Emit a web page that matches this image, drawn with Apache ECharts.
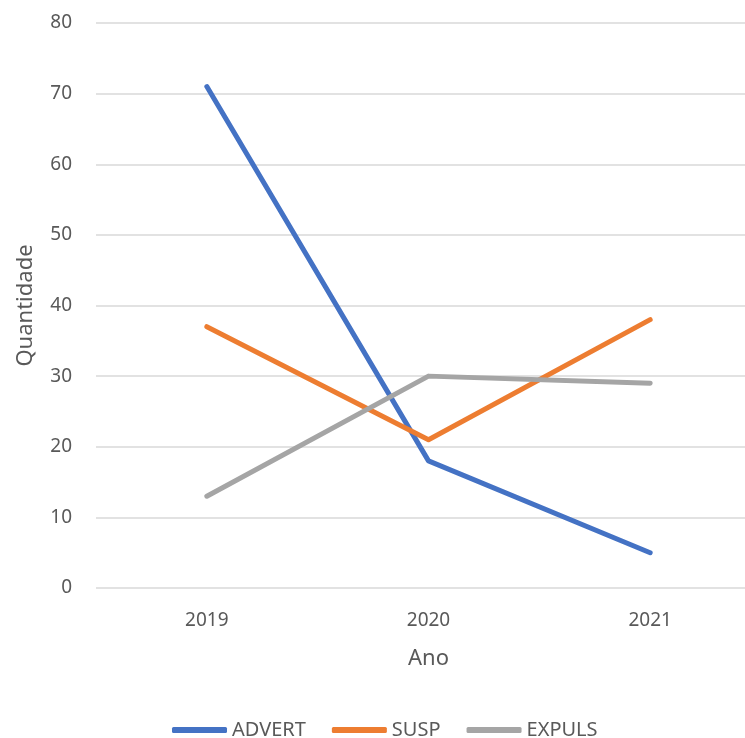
<!DOCTYPE html>
<html>
<head>
<meta charset="utf-8">
<script src="https://cdn.jsdelivr.net/npm/echarts@6/dist/echarts.min.js"></script>
<style>
  html, body { margin: 0; padding: 0; background: #fff; }
  #chart { width: 745px; height: 738px; }
</style>
</head>
<body>
<div id="chart"></div>
<script>
// Years on the category axis
const anos = ['2019', '2020', '2021'];
// Counts per year for each measure
const advert = [71, 18, 5];
const susp = [37, 21, 38];
const expuls = [13, 30, 29];

const FONT = '"Noto Sans", "Open Sans", sans-serif';
const TXT = '#595959';

const chart = echarts.init(document.getElementById('chart'));

function serie(name, data, color) {
  return {
    name: name,
    type: 'line',
    data: data,
    symbol: 'none',
    lineStyle: { color: color, width: 5, cap: 'round', join: 'round' },
    itemStyle: { color: color },
    emphasis: { disabled: true }
  };
}

chart.setOption({
  animation: false,
  backgroundColor: '#ffffff',
  grid: {
    left: 96, top: 23, right: -16, height: 565,
    containLabel: false,
    outerBoundsMode: 'none'
  },
  xAxis: {
    type: 'category',
    data: anos,
    boundaryGap: true,
    name: 'Ano',
    nameLocation: 'middle',
    nameGap: 60,
    nameTextStyle: { color: TXT, fontSize: 22, fontFamily: FONT },
    axisLine: { show: false },
    axisTick: { show: false },
    axisLabel: { color: TXT, fontSize: 19, fontFamily: FONT, margin: 23 }
  },
  yAxis: {
    type: 'value',
    min: 0,
    max: 80,
    interval: 10,
    name: 'Quantidade',
    nameLocation: 'middle',
    nameGap: 59,
    nameTextStyle: { color: TXT, fontSize: 22, fontFamily: FONT },
    axisLine: { show: false },
    axisTick: { show: false },
    axisLabel: { color: TXT, fontSize: 19, fontFamily: FONT, margin: 24 },
    splitLine: { lineStyle: { color: '#d9d9d9', width: 1.5 } }
  },
  legend: {
    top: 715,
    left: 167,
    icon: 'roundRect',
    itemWidth: 55,
    itemHeight: 6,
    itemGap: 26,
    textStyle: { color: TXT, fontSize: 20, fontFamily: FONT, padding: [0, 0, 0, 0] },
    data: ['ADVERT', 'SUSP', 'EXPULS']
  },
  series: [
    serie('ADVERT', advert, '#4472C4'),
    serie('SUSP', susp, '#ED7D31'),
    serie('EXPULS', expuls, '#A5A5A5')
  ]
});
</script>
</body>
</html>
